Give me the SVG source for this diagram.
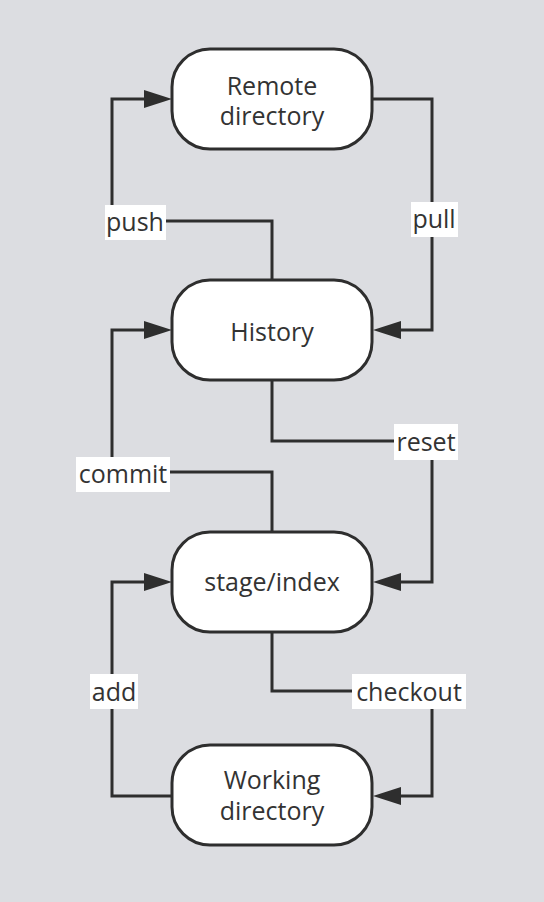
<svg xmlns="http://www.w3.org/2000/svg" width="544" height="902" viewBox="0 0 544 902">
<style>
.node{fill:#fff;stroke:#2e2e2e;stroke-width:3}
.t{font-family:"Open Sans","Liberation Sans",sans-serif;font-size:25px;fill:#333;text-anchor:middle}
.c{fill:none;stroke:#2e2e2e;stroke-width:3;stroke-linejoin:miter}
.lb{fill:#fff}
</style>
<defs>
<marker id="ah" markerUnits="userSpaceOnUse" markerWidth="28" markerHeight="18" refX="0" refY="9" orient="auto" overflow="visible">
<path d="M0,0 L28,9 L0,18 z" fill="#2e2e2e"/>
</marker>
</defs>
<rect width="544" height="902" fill="#dcdde1"/>
<g id="connectors">
<path class="c" d="M272,280 V221 H112 V99 H144" marker-end="url(#ah)"/>
<path class="c" d="M372,99 H432 V330 H401" marker-end="url(#ah)"/>
<path class="c" d="M272,532 V472 H112 V330 H144" marker-end="url(#ah)"/>
<path class="c" d="M272,380 V441 H432 V582 H401" marker-end="url(#ah)"/>
<path class="c" d="M172,796 H112 V582 H144" marker-end="url(#ah)"/>
<path class="c" d="M272,632 V691 H432 V796 H401" marker-end="url(#ah)"/>
<g id="label-push"><rect class="lb" x="105" y="205" width="61" height="35"/><text class="t" x="135" y="231">push</text></g>
<g id="label-pull"><rect class="lb" x="411" y="202" width="47" height="35"/><text class="t" x="434" y="228">pull</text></g>
<g id="label-commit"><rect class="lb" x="76" y="457" width="94" height="35"/><text class="t" x="123" y="483">commit</text></g>
<g id="label-reset"><rect class="lb" x="394" y="424" width="64" height="36"/><text class="t" x="426" y="451">reset</text></g>
<g id="label-add"><rect class="lb" x="90" y="674" width="48" height="35"/><text class="t" x="114" y="701">add</text></g>
<g id="label-checkout"><rect class="lb" x="352" y="674" width="114" height="35"/><text class="t" x="409" y="701">checkout</text></g>
</g>
<g id="remote">
<rect class="node" x="172" y="49" width="200" height="100" rx="38"/>
<text class="t" x="272" y="95">Remote</text>
<text class="t" x="272" y="125">directory</text>
</g>
<g id="history">
<rect class="node" x="172" y="280" width="200" height="100" rx="38"/>
<text class="t" x="272" y="341">History</text>
</g>
<g id="stage">
<rect class="node" x="172" y="532" width="200" height="100" rx="38"/>
<text class="t" x="272" y="591">stage/index</text>
</g>
<g id="working">
<rect class="node" x="172" y="745" width="200" height="100" rx="38"/>
<text class="t" x="272" y="789">Working</text>
<text class="t" x="272" y="820">directory</text>
</g>
</svg>
